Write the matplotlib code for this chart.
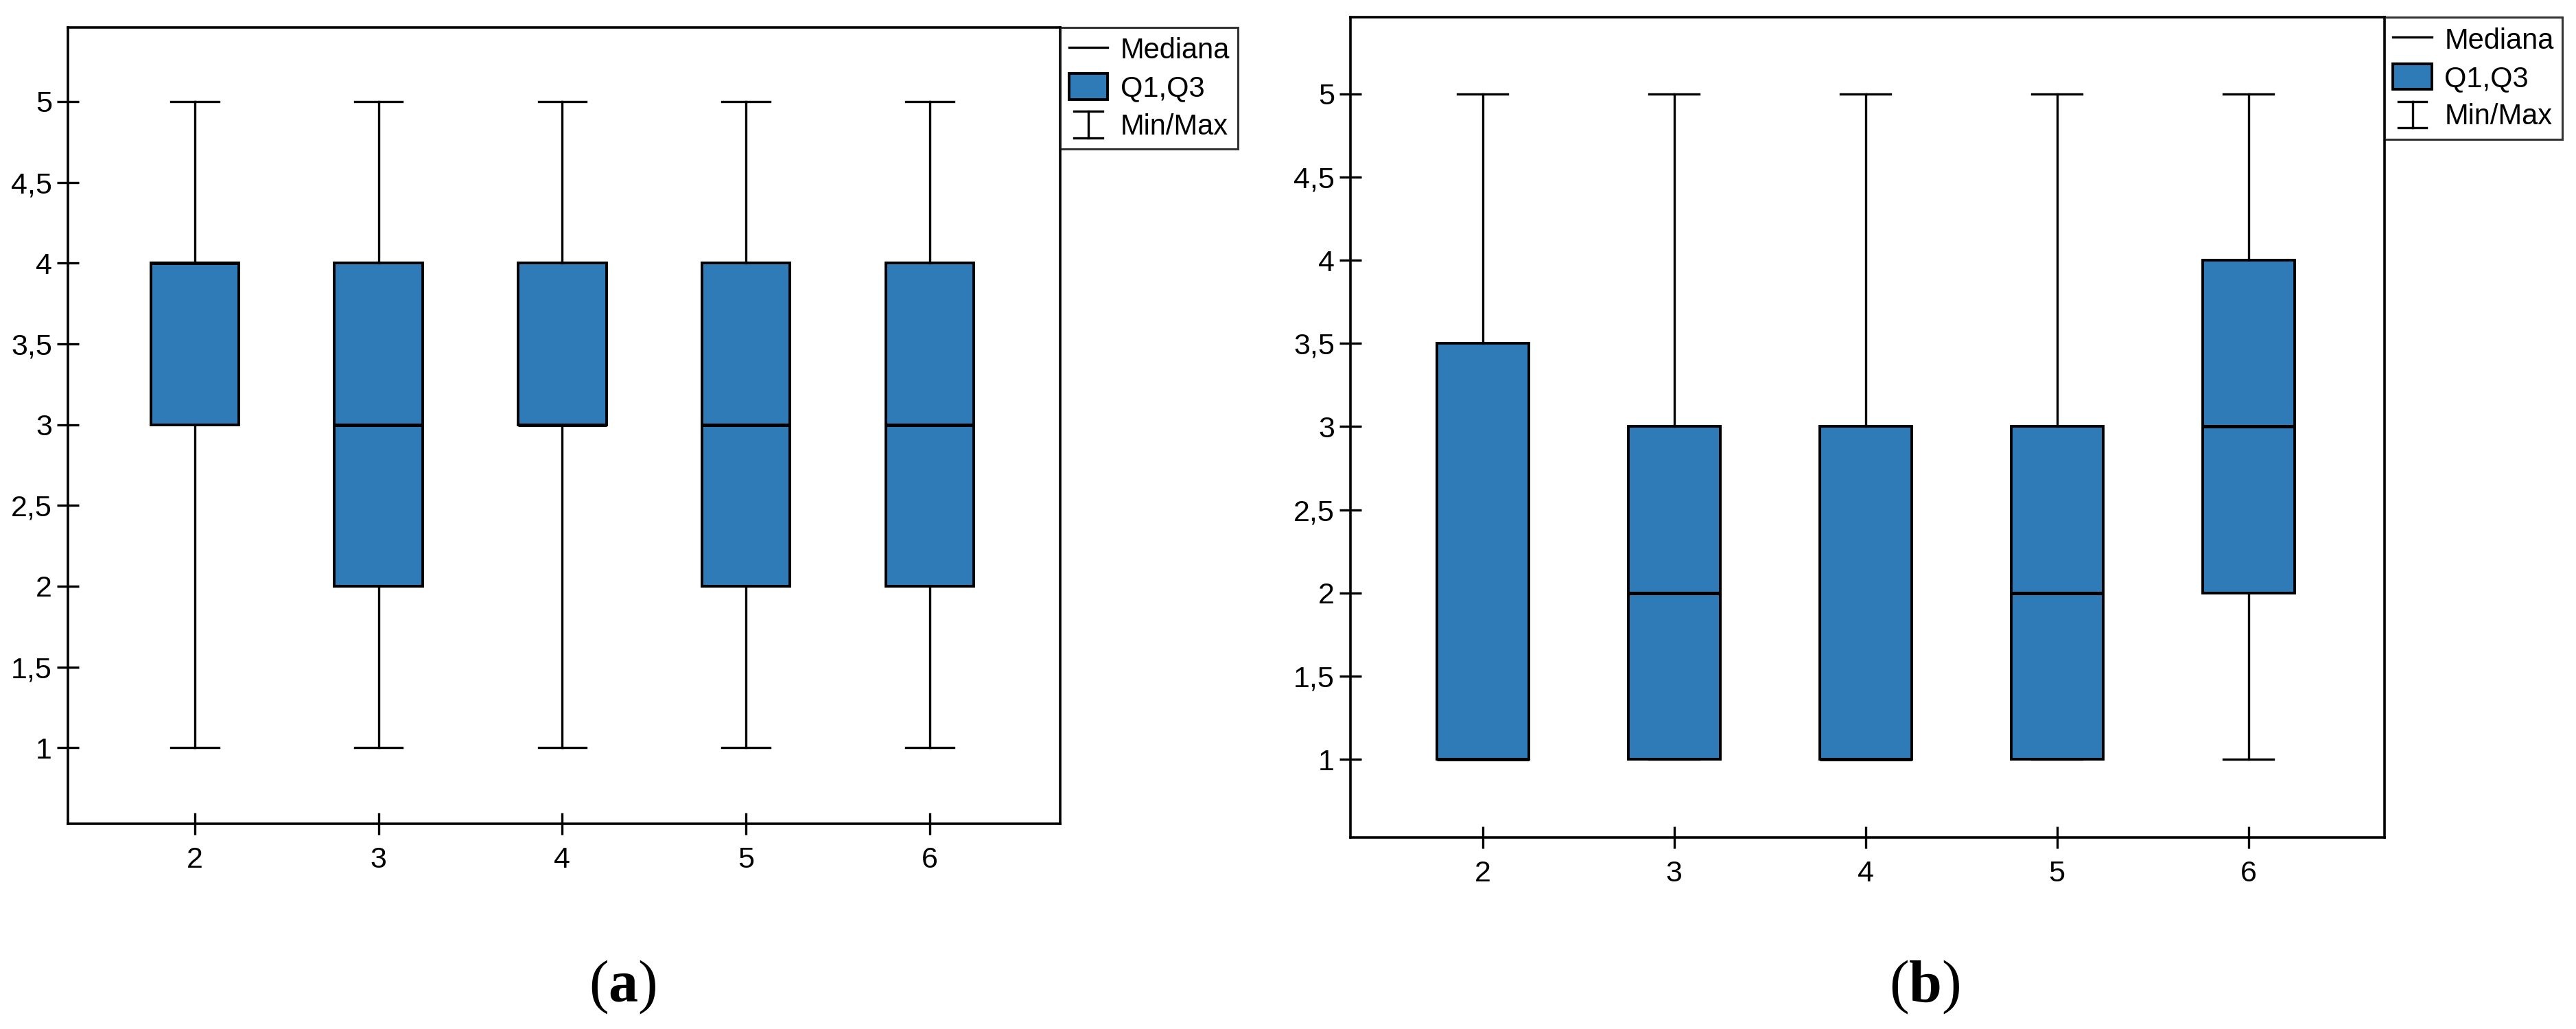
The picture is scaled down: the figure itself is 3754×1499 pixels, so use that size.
import numpy as np
import matplotlib
matplotlib.use('Agg')
import matplotlib.pyplot as plt
from matplotlib import font_manager
from matplotlib.lines import Line2D
from matplotlib.patches import Patch
from matplotlib.legend_handler import HandlerBase


# data
categories = [2, 3, 4, 5, 6]

a_min = [1, 1, 1, 1, 1]
a_q1 = [3, 2, 3, 2, 2]
a_med = [4, 3, 3, 3, 3]
a_q3 = [4, 4, 4, 4, 4]
a_max = [5, 5, 5, 5, 5]

b_min = [1, 1, 1, 1, 1]
b_q1 = [1, 1, 1, 1, 2]
b_med = [1, 2, 1, 2, 3]
b_q3 = [3.5, 3, 3, 3, 4]
b_max = [5, 5, 5, 5, 5]

y_ticks = [1, 1.5, 2, 2.5, 3, 3.5, 4, 4.5, 5]
y_tick_labels = ['1', '1,5', '2', '2,5', '3', '3,5', '4', '4,5', '5']
legend_labels = ['Mediana', 'Q1,Q3', 'Min/Max']
panel_labels = ['a', 'b']

BLUE = '#2e7bb8'

names = {f.name for f in font_manager.fontManager.ttflist}
sans = 'Liberation Sans Narrow' if 'Liberation Sans Narrow' in names else 'Liberation Sans'
plt.rcParams['font.family'] = [sans, 'DejaVu Sans']
plt.rcParams['mathtext.fontset'] = 'custom'
plt.rcParams['mathtext.rm'] = 'Liberation Serif'
plt.rcParams['mathtext.bf'] = 'Liberation Serif:bold'


class HandlerMinMax(HandlerBase):
    # draws the "I" glyph used for the whisker entry
    def create_artists(self, legend, orig_handle, xdescent, ydescent,
                       width, height, fontsize, trans):
        cx = width / 2 - xdescent
        half = 0.37 * width
        y0 = -ydescent - 0.02 * height
        y1 = height - ydescent + 0.02 * height
        lw = 2.4
        arts = [Line2D([cx, cx], [y0, y1], color='k', lw=lw, transform=trans),
                Line2D([cx - half, cx + half], [y0, y0], color='k', lw=lw, transform=trans),
                Line2D([cx - half, cx + half], [y1, y1], color='k', lw=lw, transform=trans)]
        return arts


def make_stats(mins, q1s, meds, q3s, maxs):
    stats = []
    for lo, q1, med, q3, hi in zip(mins, q1s, meds, q3s, maxs):
        stats.append({'whislo': lo, 'q1': q1, 'med': med, 'q3': q3,
                      'whishi': hi, 'fliers': []})
    return stats


def draw_panel(ax, stats):
    ax.bxp(stats, positions=categories, widths=0.48, capwidths=0.26,
           patch_artist=True, showfliers=False,
           boxprops=dict(facecolor=BLUE, edgecolor='k', linewidth=2.8),
           medianprops=dict(color='k', linewidth=3.6),
           whiskerprops=dict(color='k', linewidth=2.4),
           capprops=dict(color='k', linewidth=2.4))
    ax.set_xlim(1.31, 6.71)
    ax.set_ylim(0.53, 5.46)
    ax.set_xticks(categories)
    ax.set_xticklabels([str(c) for c in categories])
    ax.set_yticks(y_ticks)
    ax.set_yticklabels(y_tick_labels)
    ax.tick_params(axis='both', direction='inout', length=23, width=2.4,
                   labelsize=31)
    ax.tick_params(axis='x', pad=12)
    ax.tick_params(axis='y', pad=5)
    for sp in ax.spines.values():
        sp.set_linewidth(2.6)

    med_proxy = Line2D([], [], color='k', lw=2.4)
    box_proxy = Patch(facecolor=BLUE, edgecolor='k', linewidth=2.8)
    mm_proxy = Line2D([], [], color='k')
    leg = ax.legend([med_proxy, box_proxy, mm_proxy], legend_labels,
                    handler_map={mm_proxy: HandlerMinMax()},
                    loc='upper left', bbox_to_anchor=(1.0, 1.0),
                    borderaxespad=0, fontsize=30, fancybox=False,
                    frameon=True, handlelength=1.35, handleheight=1.0,
                    handletextpad=0.45, labelspacing=0.32, borderpad=0.3)
    leg.get_frame().set_edgecolor('k')
    leg.get_frame().set_linewidth(2.2)


fig = plt.figure(figsize=(37.55, 14.99), dpi=100)
ax_a = fig.add_axes([0.02637, 0.1995, 0.3851, 0.774])
ax_b = fig.add_axes([0.5241, 0.1861, 0.4013, 0.797])

draw_panel(ax_a, make_stats(a_min, a_q1, a_med, a_q3, a_max))
draw_panel(ax_b, make_stats(b_min, b_q1, b_med, b_q3, b_max))

for x, lab in zip([0.2415, 0.747], panel_labels):
    fig.text(x, 0.0407, r'($\mathbf{' + lab + '}$)', ha='center', va='center',
             fontsize=62, family='Liberation Serif')

fig.savefig('out.png', dpi=100)
